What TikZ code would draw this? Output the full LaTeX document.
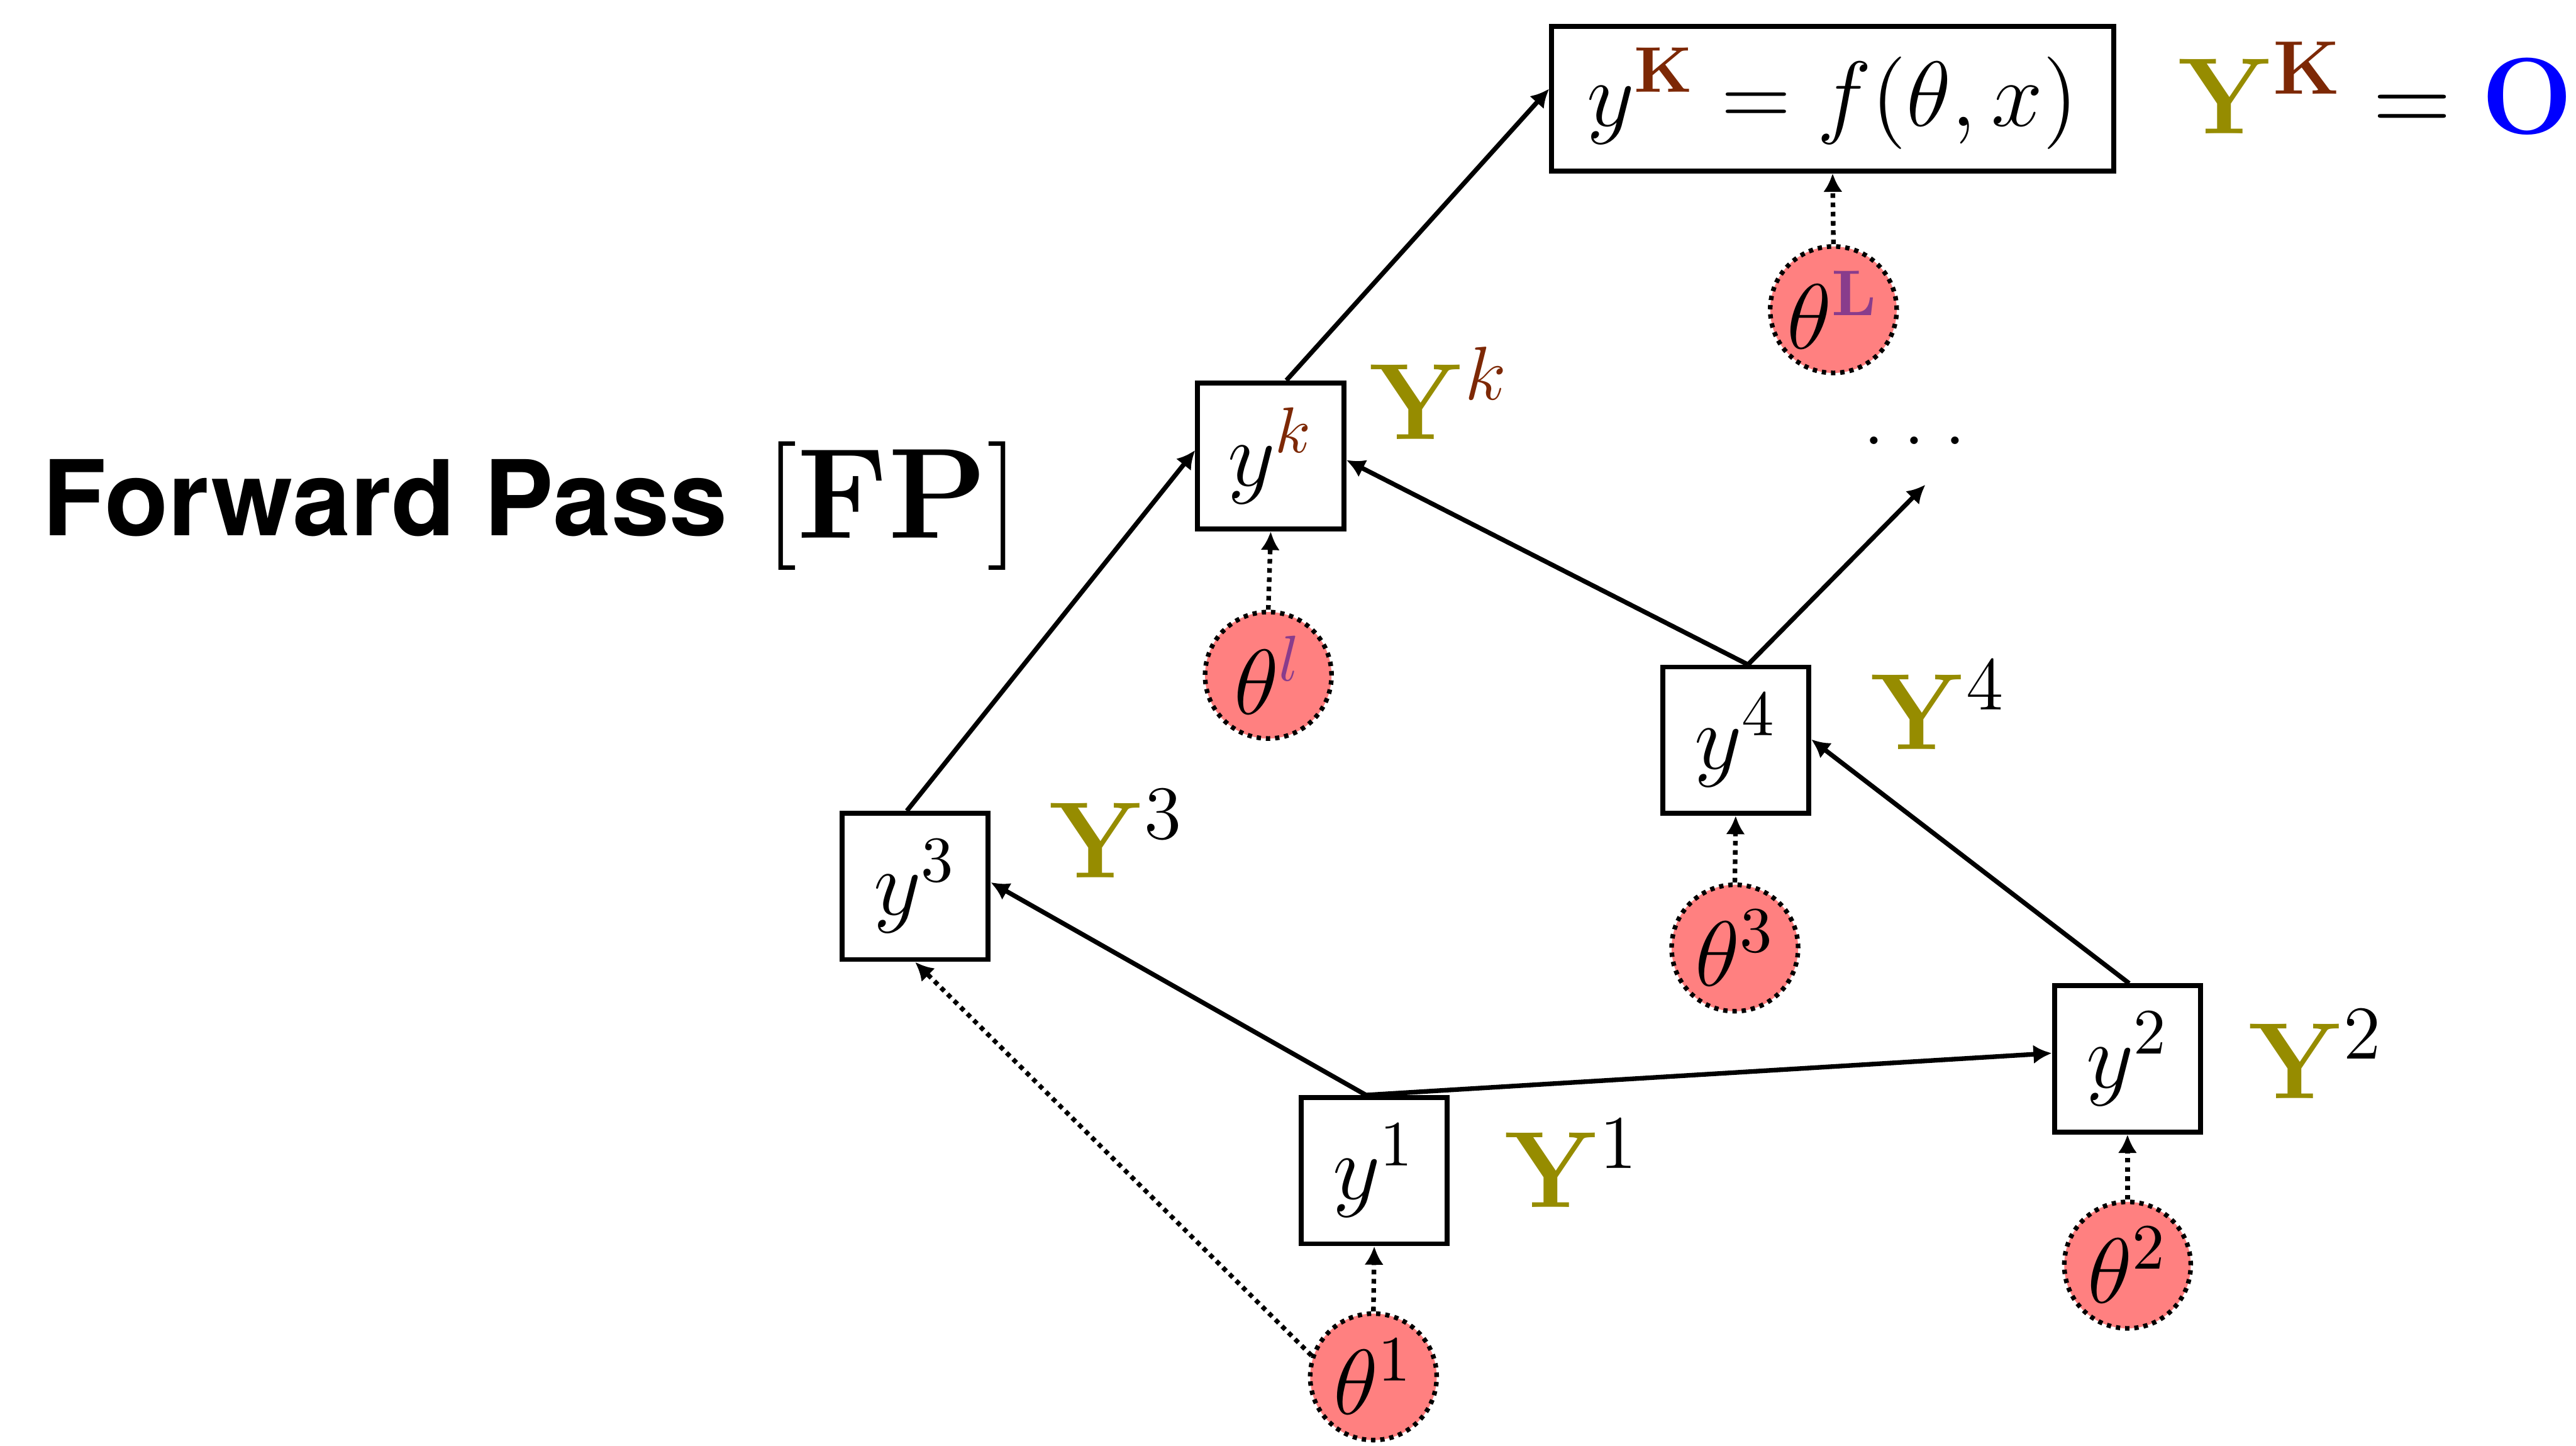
\documentclass[tikz,border=0pt]{standalone}
\usepackage{fix-cm}
\usepackage[no-math]{fontspec}
\newfontfamily\heros{TeX Gyre Heros}
\usetikzlibrary{arrows.meta,calc}
\definecolor{yolive}{RGB}{150,140,0}
\definecolor{kbrown}{RGB}{125,40,5}
\definecolor{lpurple}{RGB}{137,60,140}
\definecolor{thetafill}{RGB}{255,128,128}
\definecolor{oblue}{RGB}{0,0,255}
\tikzset{
  ybox/.style={draw, line width=0.85pt, minimum width=8.9mm, minimum height=8.9mm, inner sep=0pt, font=\fontsize{16}{19}\selectfont},
  topbox/.style={ybox, minimum width=34.2mm, minimum height=8.8mm},
  thetanode/.style={circle, fill=thetafill, draw=black, line width=0.8pt, dash pattern=on 0.75pt off 0.85pt, minimum size=7.7mm, inner sep=0pt, font=\fontsize{16}{19}\selectfont},
  lab/.style={anchor=base west, inner sep=0pt, font=\fontsize{18.8}{22}\selectfont},
  fwd/.style={-{Latex[length=3.2pt,width=3.3pt]}, line width=0.8pt},
  parr/.style={fwd, dash pattern=on 0.8pt off 0.8pt},
}
\begin{document}
\begin{tikzpicture}[x=0.1mm, y=-0.1mm]
\useasboundingbox (0,0) rectangle (1568,880);

% title
\node[anchor=base west, inner sep=0pt, font=\heros\bfseries\fontsize{18.1}{21}\selectfont] (fwdtxt) at (25,325.8) {Forward Pass};
\node[anchor=base west, inner sep=0pt, font=\fontsize{22.3}{26}\selectfont] (fptxt) at (465,327.5) {$[\mathbf{FP}]$};

% boxes
\node[ybox] (y3) at (557,539.5) {$y^3$};
\node[ybox] (y1) at (836.5,712.5) {$y^1$};
\node[ybox] (y2) at (1295,644.5) {$y^2$};
\node[ybox] (y4) at (1056.5,450.5) {$y^4$};
\node[ybox] (yk) at (773.5,277.5) {$y^{\textcolor{kbrown}{k}}$};
\node[topbox] (yK) at (1115.5,60) {$y^{\textcolor{kbrown}{\mathbf{K}}} = f(\theta, x)$};

% thetas
\node[thetanode] (t1) at (836,838) {$\theta^1$};
\node[thetanode] (t2) at (1295,770) {$\theta^2$};
\node[thetanode] (t3) at (1056,577) {$\theta^3$};
\node[thetanode] (tl) at (772,411) {$\theta^{\textcolor{lpurple}{l}}$};
\node[thetanode] (tL) at (1116,188.5) {$\theta^{\textcolor{lpurple}{\mathbf{L}}}$};

% labels
\node[lab] (L3) at (638,534.3) {$\textcolor{yolive}{\mathbf{Y}}^3$};
\node[lab] (L1) at (915,735) {$\textcolor{yolive}{\mathbf{Y}}^1$};
\node[lab] (L2) at (1368,668.6) {$\textcolor{yolive}{\mathbf{Y}}^2$};
\node[lab] (L4) at (1138,456) {$\textcolor{yolive}{\mathbf{Y}}^4$};
\node[lab] (Lk) at (833,267.4) {$\textcolor{yolive}{\mathbf{Y}}^{\textcolor{kbrown}{k}}$};
\node[lab] (LK) at (1325,81.4) {$\textcolor{yolive}{\mathbf{Y}}^{\textcolor{kbrown}{\mathbf{K}}} = \textcolor{oblue}{\mathbf{O}}$};

% dots
\node[anchor=base west, inner sep=0pt, font=\fontsize{16}{19}\selectfont] (dots) at (1133,270.5) {.\kern3pt.\kern3pt.};
\coordinate (dotsin) at (1172,295);

% solid connectors
\draw[fwd] ($(y3.north)+(-5,0)$) -- ($(yk.west)+(0,-3.5)$);
\draw[fwd] ($(yk.north)+(9.5,0)$) -- ($(yK.west)+(0,-6)$);
\draw[fwd] ($(y1.north)+(-5,0)$) -- ($(y3.east)+(0,-2.5)$);
\draw[fwd] ($(y1.north)+(-5,0)$) -- ($(y2.west)+(0,-3.5)$);
\draw[fwd] ($(y2.north)+(1,0)$) -- ($(y4.east)+(0,-0.5)$);
\draw[fwd] ($(y4.north)+(7.5,0)$) -- ($(yk.east)+(0,2.5)$);
\draw[fwd] ($(y4.north)+(7.5,0)$) -- (dotsin);

% dotted connectors
\draw[parr] (t1.161) -- (y3.south);
\draw[parr] (t1.north) -- (y1.south);
\draw[parr] (t2.north) -- (y2.south);
\draw[parr] (t3.north) -- (y4.south);
\draw[parr] (tl.north) -- (yk.south);
\draw[parr] (tL.north) -- (yK.south);
\end{tikzpicture}
\end{document}
